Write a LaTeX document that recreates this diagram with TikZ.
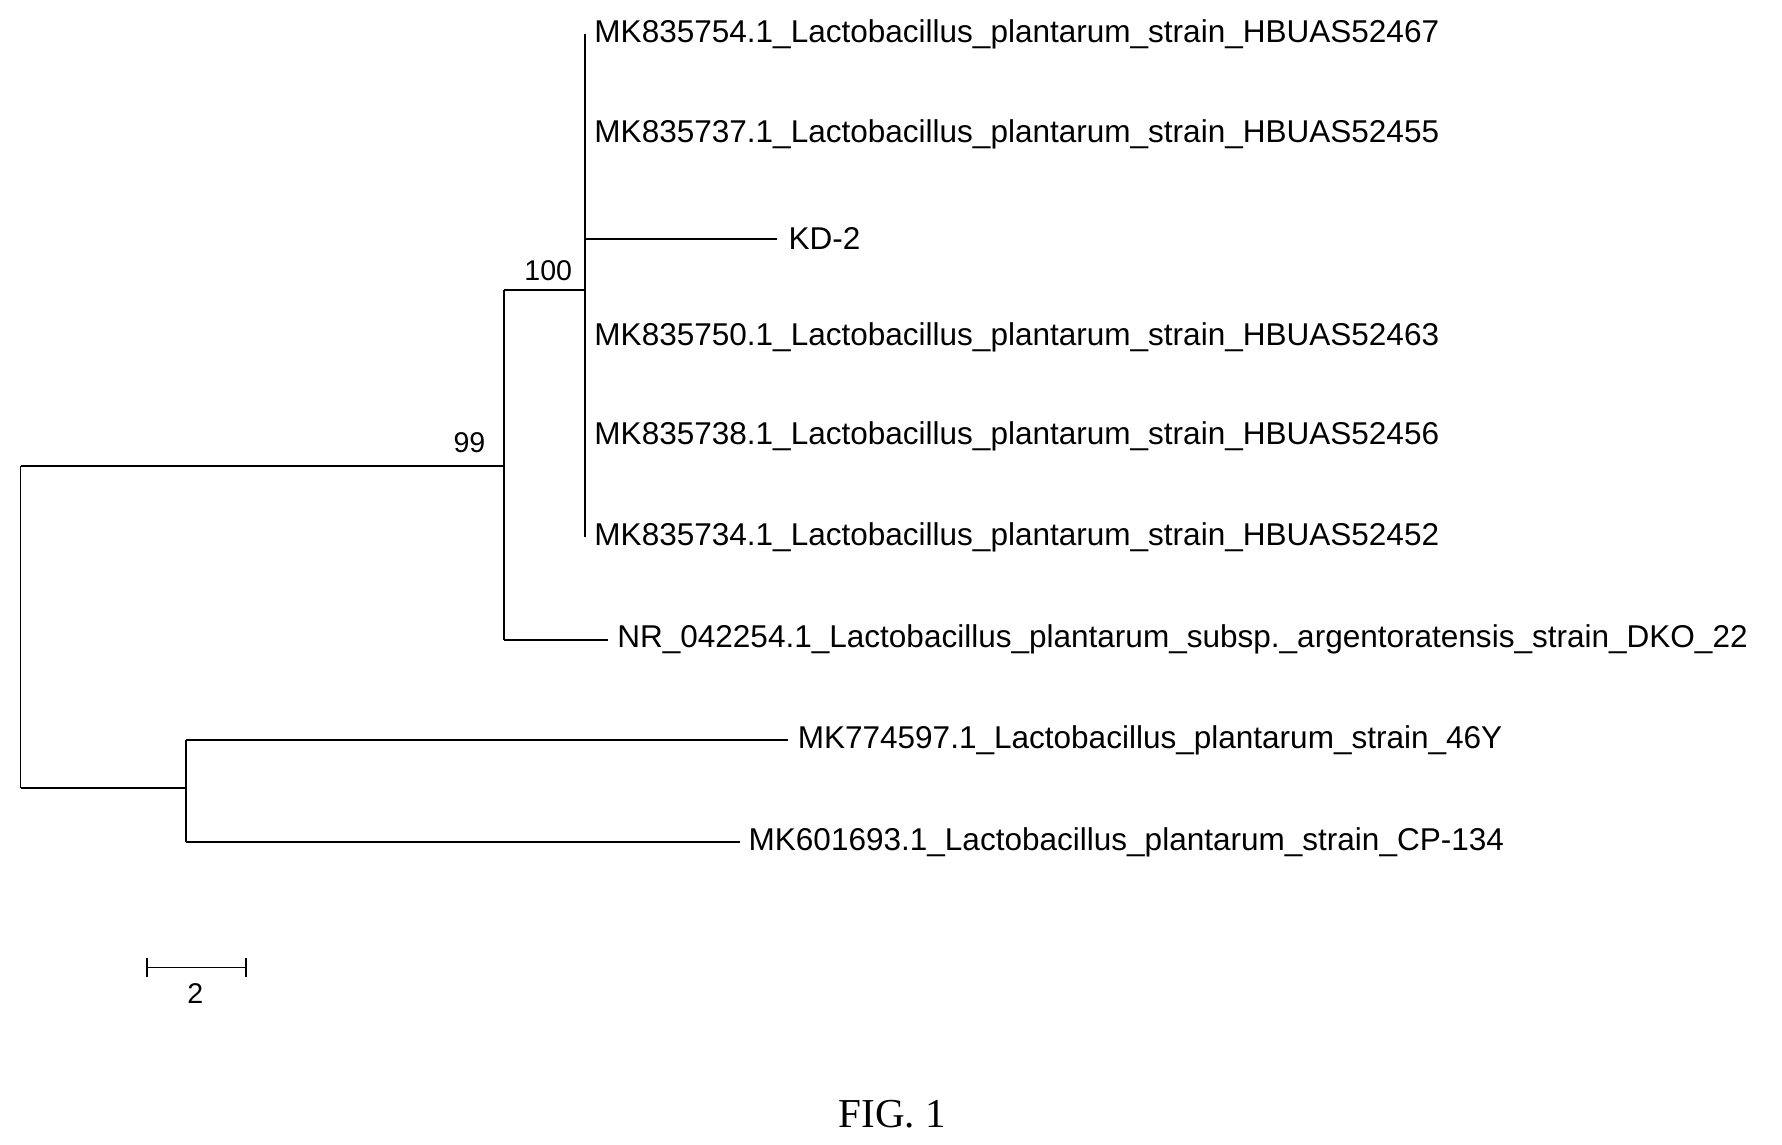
\documentclass[tikz,border=0pt]{standalone}
\usepackage{fontspec}
\setmainfont{Liberation Sans}
\newfontfamily\figfont{Liberation Serif}
\begin{document}
\begin{tikzpicture}[x=0.5pt,y=-0.5pt,
  br/.style={line width=0.8pt},
  lab/.style={anchor=west,inner sep=0pt,font=\fontsize{13.8}{14}\selectfont},
  boot/.style={anchor=south,inner sep=1pt,font=\fontsize{12.5}{13}\selectfont}]
\useasboundingbox (0,0) rectangle (1560,1002);
% internal nodes
\coordinate (r) at (18,408);
\coordinate (rb) at (18,690);
\coordinate (n99) at (441,408);
\coordinate (n99a) at (441,254);
\coordinate (n99b) at (441,560);
\coordinate (n100) at (512,254);
\coordinate (n100t) at (512,30);
\coordinate (n100b) at (512,470);
\coordinate (nb) at (163,690);
\coordinate (nbt) at (163,648);
\coordinate (nbb) at (163,737);
% leaf labels
\node[lab] (l1) at (520,30) {MK835754.1\_Lactobacillus\_plantarum\_strain\_HBUAS52467};
\node[lab] (l2) at (520,118) {MK835737.1\_Lactobacillus\_plantarum\_strain\_HBUAS52455};
\node[lab] (kd) at (690,209) {KD-2};
\node[lab] (l3) at (520,295) {MK835750.1\_Lactobacillus\_plantarum\_strain\_HBUAS52463};
\node[lab] (l4) at (520,382) {MK835738.1\_Lactobacillus\_plantarum\_strain\_HBUAS52456};
\node[lab] (l5) at (520,470) {MK835734.1\_Lactobacillus\_plantarum\_strain\_HBUAS52452};
\node[lab] (nr) at (540,560) {NR\_042254.1\_Lactobacillus\_plantarum\_subsp.\_argentoratensis\_strain\_DKO\_22};
\node[lab] (m7) at (698,648) {MK774597.1\_Lactobacillus\_plantarum\_strain\_46Y};
\node[lab] (m6) at (655,737) {MK601693.1\_Lactobacillus\_plantarum\_strain\_CP-134};
% branches
\draw[br] (r) -- (rb);
\draw[br] (r) -- (n99);
\draw[br] (n99a) -- (n99b);
\draw[br] (n99a) -- (n100);
\draw[br] (n100t) -- (n100b);
\draw[br] (n100 |- kd) -- (680,209);
\draw[br] (n99b) -- (532,560);
\draw[br] (rb) -- (nb);
\draw[br] (nbt) -- (nbb);
\draw[br] (nbt) -- (690,648);
\draw[br] (nbb) -- (648,737);
% bootstrap
\node[boot] (b100) at (480,248) {100};
\node[boot] (b99) at (411,399) {99};
% scale bar
\coordinate (s1) at (129,847);
\coordinate (s2) at (215,847);
\draw[br] (s1) -- (s2);
\draw[br] ([yshift=4pt]s1) -- ([yshift=-4pt]s1);
\draw[br] ([yshift=4pt]s2) -- ([yshift=-4pt]s2);
\node[font=\fontsize{12.5}{13}\selectfont] (sl) at (171,870) {2};
\node[font=\figfont\fontsize{18}{20}\selectfont] (fig) at (781,975) {FIG. 1};
\end{tikzpicture}
\end{document}
